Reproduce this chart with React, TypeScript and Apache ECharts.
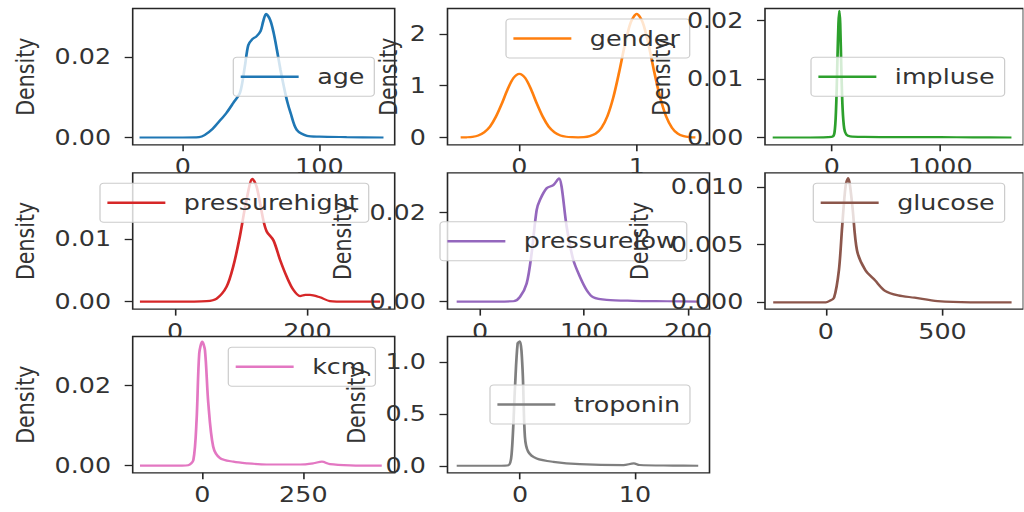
import React, { useEffect, useRef } from "react";
import * as echarts from "echarts";

// ---------------- data ----------------
const seriesNames = ["age", "gender", "impluse", "pressurehight", "pressurelow", "glucose", "kcm", "troponin"];
const seriesColors = ["#1f77b4", "#ff7f0e", "#2ca02c", "#d62728", "#9467bd", "#8c564b", "#e377c2", "#7f7f7f"];

const ageX = [-31.6, 0, 12, 16, 22, 28, 32, 37, 42, 45.5, 48, 51, 54, 57, 59, 61, 64, 66.5, 69, 71.5, 74, 76.5, 79, 83.5, 91, 100, 120, 147];
const ageY = [0, 0, 0.0001, 0.0006, 0.0022, 0.0045, 0.0061, 0.0086, 0.0112, 0.0177, 0.023, 0.0245, 0.0252, 0.0265, 0.029, 0.0308, 0.0293, 0.0262, 0.0218, 0.017, 0.0128, 0.009, 0.0061, 0.0019, 0.0004, 0.0002, 0.0001, 0];

const genderX = [-0.5, -0.45, -0.4, -0.35, -0.3, -0.25, -0.2, -0.15, -0.1, -0.05, 0, 0.05, 0.1, 0.15, 0.2, 0.25, 0.3, 0.35, 0.4, 0.45, 0.5, 0.55, 0.6, 0.65, 0.7, 0.75, 0.8, 0.85, 0.9, 0.95, 1.0, 1.05, 1.1, 1.15, 1.2, 1.25, 1.3, 1.35, 1.4, 1.45, 1.5];
const genderY = [0.001, 0.004, 0.013, 0.04, 0.1, 0.21, 0.4, 0.65, 0.93, 1.15, 1.23, 1.15, 0.93, 0.65, 0.4, 0.21, 0.1, 0.04, 0.015, 0.006, 0.003, 0.006, 0.026, 0.074, 0.19, 0.41, 0.77, 1.26, 1.8, 2.23, 2.39, 2.23, 1.8, 1.26, 0.77, 0.41, 0.19, 0.074, 0.026, 0.008, 0.002];

const impulseX = [-544, -200, 0, 25, 40, 52, 62, 70, 78, 88, 100, 115, 135, 170, 300, 600, 1000, 1300, 1656];
const impulseY = [0, 0, 0.0001, 0.0008, 0.005, 0.013, 0.0195, 0.0217, 0.0195, 0.012, 0.005, 0.0015, 0.0005, 0.0002, 0.0001, 0.00005, 0.00005, 0.00003, 0];

const pHighX = [-53, 0, 48, 63, 78, 88, 98, 108, 117, 123.5, 133.5, 138.6, 148.7, 158.7, 168.8, 178.8, 189, 197, 204, 219, 234, 260, 310];
const pHighY = [0, 0, 0.0001, 0.0005, 0.0024, 0.0056, 0.0104, 0.0162, 0.0196, 0.0183, 0.013, 0.0112, 0.0098, 0.0067, 0.004, 0.0019, 0.0009, 0.0011, 0.0011, 0.0007, 0.0001, 0, 0];

const pLowX = [-22.4, 0, 32, 38.4, 44.8, 49.6, 54.4, 57.6, 64, 70.4, 75.9, 78.4, 83.2, 89.6, 96, 102.5, 108.8, 121.7, 147, 180, 209.6];
const pLowY = [0, 0, 0.0001, 0.0011, 0.0041, 0.0109, 0.0206, 0.0229, 0.0255, 0.0262, 0.0277, 0.0258, 0.0169, 0.0094, 0.0056, 0.0026, 0.001, 0.0004, 0.0002, 0.0001, 0];

const glucoseX = [-225.6, 0, 14, 35, 56, 70, 84.5, 95.5, 112.4, 133.6, 169, 211, 253.6, 310, 380, 479, 620, 796];
const glucoseY = [0, 0, 0.0001, 0.0004, 0.0028, 0.0066, 0.0101, 0.0108, 0.0086, 0.0045, 0.0028, 0.0019, 0.001, 0.0006, 0.0004, 0.0001, 0, 0];

const kcmX = [-154, -50, -35, -22, -14, -7.4, 0, 6.7, 15, 27, 44, 77, 110, 159, 242, 275, 296, 316, 366, 444];
const kcmY = [0, 0, 0.0001, 0.0014, 0.0114, 0.0281, 0.031, 0.0289, 0.0156, 0.0048, 0.0019, 0.001, 0.0006, 0.0003, 0.0003, 0.0006, 0.001, 0.0004, 0.0001, 0];

const tropX = [-5.5, -2, -1.0, -0.72, -0.43, -0.2, 0, 0.23, 0.43, 0.72, 1.45, 2.9, 5.2, 9, 9.9, 10.4, 13.3, 15.5];
const tropY = [0, 0, 0.005, 0.12, 0.76, 1.18, 1.2, 0.92, 0.28, 0.135, 0.07, 0.038, 0.016, 0.007, 0.023, 0.007, 0.002, 0];

const seriesX = [ageX, genderX, impulseX, pHighX, pLowX, glucoseX, kcmX, tropX];
const seriesY = [ageY, genderY, impulseY, pHighY, pLowY, glucoseY, kcmY, tropY];

// tick values / label decimals
const xTickValues = [[0, 100], [0, 1], [0, 1000], [0, 200], [0, 100, 200], [0, 500], [0, 250], [0, 10]];
const yTickValues = [[0, 0.02], [0, 1, 2], [0, 0.01, 0.02], [0, 0.01], [0, 0.02], [0, 0.005, 0.01], [0, 0.02], [0, 0.5, 1.0]];
const yTickDecimals = [2, 0, 2, 2, 2, 3, 2, 1];
const yAxisTitle = "Density";

// axis ranges
const xRanges = [[-36.6, 155.2], [-0.612, 1.62], [-615, 1766], [-63.9, 332], [-31.2, 220.4], [-260.8, 846.6], [-172, 476], [-6.3, 16.48]];
const yRanges = [[-0.00182, 0.03214], [-0.141, 2.492], [-0.00125, 0.02209], [-0.00118, 0.02056], [-0.00166, 0.02897], [-0.00059, 0.01125], [-0.00178, 0.0323], [-0.068, 1.247]];

// ---------------- layout (outer pixel coordinates) ----------------
const S = 1.233; // horizontal stretch of the reference
const W = 1024 / S;
const colLeft = [132.7, 447.5, 765];
const rowTop = [8.5, 172.8, 336.5];
const cellW = 262;
const cellH = 136.3;
const legendPos = [[233.3, 57.3], [506, 19], [811, 57.3], [100, 183.3], [440, 221.7], [813.3, 183.3], [228.3, 347.3], [490, 385]];
const nameDist = [107.7, 59.5, 104, 107.7, 105.5, 126, 107.7, 90.8];

const FONT = "DejaVu Sans";
const FS = 20.6;
const TXT = "#333333";
const AX = "#262626";

export default function App() {
  const ref = useRef<HTMLDivElement>(null);
  useEffect(() => {
    if (!ref.current) return;
    const chart = echarts.init(ref.current, undefined, { renderer: "svg" });
    const grid: any[] = [];
    const xAxis: any[] = [];
    const yAxis: any[] = [];
    const series: any[] = [];
    const legend: any[] = [];
    seriesNames.forEach((name, i) => {
      const r = Math.floor(i / 3);
      const c = i % 3;
      const zb = 10 * (i + 1);
      grid.push({
        left: colLeft[c] / S,
        top: rowTop[r],
        width: cellW / S,
        height: cellH,
        show: true,
        backgroundColor: "#ffffff",
        borderColor: AX,
        borderWidth: 1.3,
        z: zb,
        containLabel: false,
      });
      xAxis.push({
        type: "value",
        gridIndex: i,
        min: xRanges[i][0],
        max: xRanges[i][1],
        z: zb + 1,
        axisLine: { show: false, onZero: false },
        splitLine: { show: false },
        axisTick: { show: true, length: 6.5, customValues: xTickValues[i], lineStyle: { color: AX, width: 1.3 } },
        axisLabel: {
          customValues: xTickValues[i],
          formatter: (v: number) => String(Math.round(v)),
          fontSize: FS,
          fontFamily: FONT,
          color: TXT,
          margin: 12,
        },
      });
      yAxis.push({
        type: "value",
        gridIndex: i,
        min: yRanges[i][0],
        max: yRanges[i][1],
        z: zb + 1,
        name: yAxisTitle,
        nameLocation: "middle",
        nameGap: nameDist[i] / S - 10.3,
        nameTextStyle: { fontSize: FS, fontFamily: FONT, color: TXT },
        axisLine: { show: false, onZero: false },
        splitLine: { show: false },
        axisTick: { show: true, length: 6.5, customValues: yTickValues[i], lineStyle: { color: AX, width: 1.3 } },
        axisLabel: {
          customValues: yTickValues[i],
          formatter: (v: number) => v.toFixed(yTickDecimals[i]),
          fontSize: FS,
          fontFamily: FONT,
          color: TXT,
          margin: 17.5,
        },
      });
      series.push({
        type: "line",
        name,
        xAxisIndex: i,
        yAxisIndex: i,
        z: zb + 2,
        symbol: "none",
        showSymbol: false,
        smooth: 0.3,
        lineStyle: { color: seriesColors[i], width: 2.2 },
        itemStyle: { color: seriesColors[i] },
        data: seriesX[i].map((x, k) => [x, seriesY[i][k]]),
      });
      legend.push({
        show: true,
        data: [name],
        left: legendPos[i][0] / S,
        top: legendPos[i][1],
        orient: "horizontal",
        padding: [9, 8, 9, 6],
        itemWidth: 57,
        itemHeight: 2.5,
        icon: "path://M0 0H47V2.5H0Z M57 0V2.5",
        itemStyle: { borderWidth: 0 },
        textStyle: { fontSize: FS, fontFamily: FONT, color: TXT },
        backgroundColor: "rgba(255,255,255,0.8)",
        borderColor: "#cccccc",
        borderWidth: 1,
        borderRadius: 3,
        selectedMode: false,
        z: zb + 3,
      });
    });
    chart.setOption({ animation: false, grid, xAxis, yAxis, series, legend });
    return () => chart.dispose();
  }, []);
  return (
    <div
      ref={ref}
      style={{
        position: "absolute",
        left: 0,
        top: 0,
        width: W + "px",
        height: "512px",
        transform: `scaleX(${S})`,
        transformOrigin: "0 0",
      }}
    />
  );
}
